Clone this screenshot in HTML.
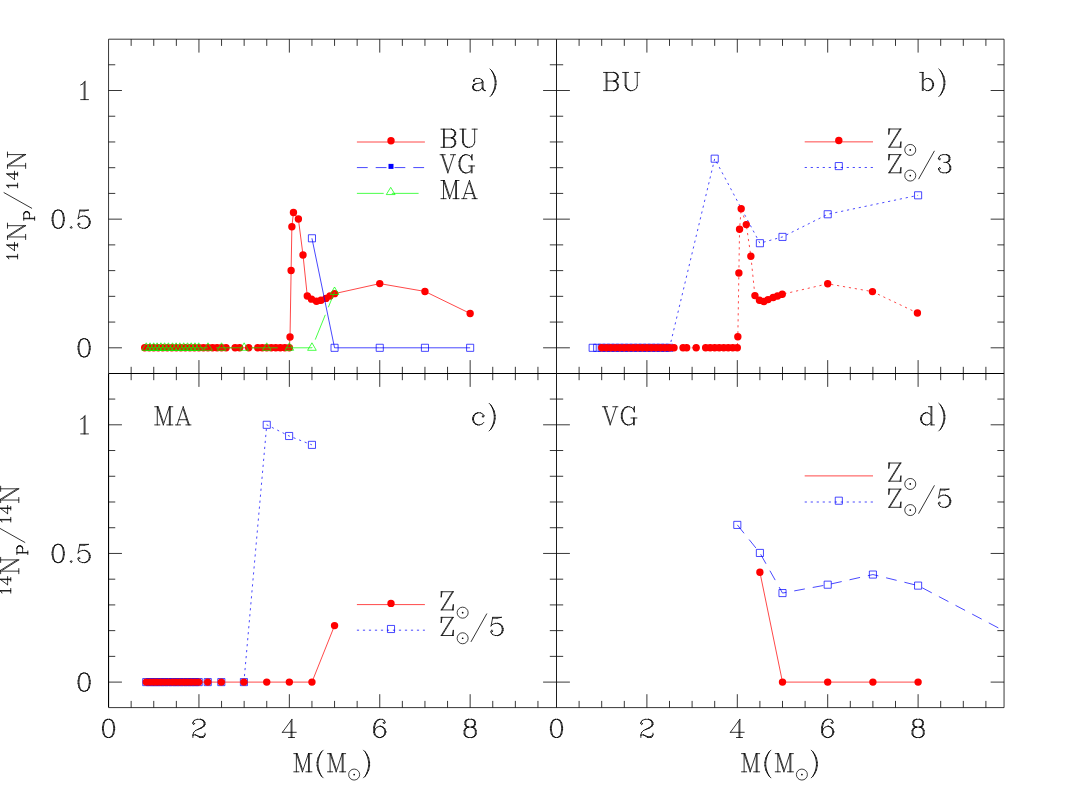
<!DOCTYPE html>
<html><head><meta charset="utf-8"><title>14N primary fraction vs mass</title>
<style>html,body{margin:0;padding:0;background:#fff;font-family:"Liberation Sans",sans-serif}svg{display:block}</style>
</head><body>
<svg width="1067" height="797" viewBox="0 0 1067 797">
<rect width="1067" height="797" fill="#fff"/>
<path d="M144.71 347.8L149.23 347.8L153.75 347.8L158.27 347.8L162.79 347.8L167.31 347.8L171.83 347.8L176.35 347.8L180.87 347.8L185.39 347.8L189.91 347.8L194.43 347.8L198.95 347.8L203.47 347.8L207.99 347.8L212.51 347.8L217.03 347.8L221.55 347.8L226.07 347.8L235.11 347.8L239.63 347.8L248.67 347.8L257.71 347.8L262.23 347.8L266.75 347.8L271.27 347.8L275.79 347.8L280.31 347.8L284.83 347.8L289.35 347.8L290.03 336.99L291.11 270.51L291.88 226.69L293.46 212.51L298.39 219L303 254.99L307.29 296.01L311.5 299.17L316.47 301.31L320.99 300.3L325.96 298.4L330.03 296.01L334.55 293.64L379.75 283.6L424.95 291.45L470.15 313.48" stroke="#ff0000" fill="none" stroke-width="0.72"/>
<path d="M141.01 347.8a3.7 3.7 0 1 0 7.4 0a3.7 3.7 0 1 0 -7.4 0zM145.53 347.8a3.7 3.7 0 1 0 7.4 0a3.7 3.7 0 1 0 -7.4 0zM150.05 347.8a3.7 3.7 0 1 0 7.4 0a3.7 3.7 0 1 0 -7.4 0zM154.57 347.8a3.7 3.7 0 1 0 7.4 0a3.7 3.7 0 1 0 -7.4 0zM159.09 347.8a3.7 3.7 0 1 0 7.4 0a3.7 3.7 0 1 0 -7.4 0zM163.61 347.8a3.7 3.7 0 1 0 7.4 0a3.7 3.7 0 1 0 -7.4 0zM168.13 347.8a3.7 3.7 0 1 0 7.4 0a3.7 3.7 0 1 0 -7.4 0zM172.65 347.8a3.7 3.7 0 1 0 7.4 0a3.7 3.7 0 1 0 -7.4 0zM177.17 347.8a3.7 3.7 0 1 0 7.4 0a3.7 3.7 0 1 0 -7.4 0zM181.69 347.8a3.7 3.7 0 1 0 7.4 0a3.7 3.7 0 1 0 -7.4 0zM186.21 347.8a3.7 3.7 0 1 0 7.4 0a3.7 3.7 0 1 0 -7.4 0zM190.73 347.8a3.7 3.7 0 1 0 7.4 0a3.7 3.7 0 1 0 -7.4 0zM195.25 347.8a3.7 3.7 0 1 0 7.4 0a3.7 3.7 0 1 0 -7.4 0zM199.77 347.8a3.7 3.7 0 1 0 7.4 0a3.7 3.7 0 1 0 -7.4 0zM204.29 347.8a3.7 3.7 0 1 0 7.4 0a3.7 3.7 0 1 0 -7.4 0zM208.81 347.8a3.7 3.7 0 1 0 7.4 0a3.7 3.7 0 1 0 -7.4 0zM213.33 347.8a3.7 3.7 0 1 0 7.4 0a3.7 3.7 0 1 0 -7.4 0zM217.85 347.8a3.7 3.7 0 1 0 7.4 0a3.7 3.7 0 1 0 -7.4 0zM222.37 347.8a3.7 3.7 0 1 0 7.4 0a3.7 3.7 0 1 0 -7.4 0zM231.41 347.8a3.7 3.7 0 1 0 7.4 0a3.7 3.7 0 1 0 -7.4 0zM235.93 347.8a3.7 3.7 0 1 0 7.4 0a3.7 3.7 0 1 0 -7.4 0zM244.97 347.8a3.7 3.7 0 1 0 7.4 0a3.7 3.7 0 1 0 -7.4 0zM254.01 347.8a3.7 3.7 0 1 0 7.4 0a3.7 3.7 0 1 0 -7.4 0zM258.53 347.8a3.7 3.7 0 1 0 7.4 0a3.7 3.7 0 1 0 -7.4 0zM263.05 347.8a3.7 3.7 0 1 0 7.4 0a3.7 3.7 0 1 0 -7.4 0zM267.57 347.8a3.7 3.7 0 1 0 7.4 0a3.7 3.7 0 1 0 -7.4 0zM272.09 347.8a3.7 3.7 0 1 0 7.4 0a3.7 3.7 0 1 0 -7.4 0zM276.61 347.8a3.7 3.7 0 1 0 7.4 0a3.7 3.7 0 1 0 -7.4 0zM281.13 347.8a3.7 3.7 0 1 0 7.4 0a3.7 3.7 0 1 0 -7.4 0zM285.65 347.8a3.7 3.7 0 1 0 7.4 0a3.7 3.7 0 1 0 -7.4 0zM286.33 336.99a3.7 3.7 0 1 0 7.4 0a3.7 3.7 0 1 0 -7.4 0zM287.41 270.51a3.7 3.7 0 1 0 7.4 0a3.7 3.7 0 1 0 -7.4 0zM288.18 226.69a3.7 3.7 0 1 0 7.4 0a3.7 3.7 0 1 0 -7.4 0zM289.76 212.51a3.7 3.7 0 1 0 7.4 0a3.7 3.7 0 1 0 -7.4 0zM294.69 219a3.7 3.7 0 1 0 7.4 0a3.7 3.7 0 1 0 -7.4 0zM299.3 254.99a3.7 3.7 0 1 0 7.4 0a3.7 3.7 0 1 0 -7.4 0zM303.59 296.01a3.7 3.7 0 1 0 7.4 0a3.7 3.7 0 1 0 -7.4 0zM307.8 299.17a3.7 3.7 0 1 0 7.4 0a3.7 3.7 0 1 0 -7.4 0zM312.77 301.31a3.7 3.7 0 1 0 7.4 0a3.7 3.7 0 1 0 -7.4 0zM317.29 300.3a3.7 3.7 0 1 0 7.4 0a3.7 3.7 0 1 0 -7.4 0zM322.26 298.4a3.7 3.7 0 1 0 7.4 0a3.7 3.7 0 1 0 -7.4 0zM326.33 296.01a3.7 3.7 0 1 0 7.4 0a3.7 3.7 0 1 0 -7.4 0zM330.85 293.64a3.7 3.7 0 1 0 7.4 0a3.7 3.7 0 1 0 -7.4 0zM376.05 283.6a3.7 3.7 0 1 0 7.4 0a3.7 3.7 0 1 0 -7.4 0zM421.25 291.45a3.7 3.7 0 1 0 7.4 0a3.7 3.7 0 1 0 -7.4 0zM466.45 313.48a3.7 3.7 0 1 0 7.4 0a3.7 3.7 0 1 0 -7.4 0z" fill="#ff0000"/>
<path d="M311.95 238.29L334.55 347.8L379.75 347.8L424.95 347.8L470.15 347.8" stroke="#0000ff" fill="none" stroke-width="0.72"/>
<path d="M308.4 234.74h7.1v7.1h-7.1zM331 344.25h7.1v7.1h-7.1zM376.2 344.25h7.1v7.1h-7.1zM421.4 344.25h7.1v7.1h-7.1zM466.6 344.25h7.1v7.1h-7.1z" fill="none" stroke="#0000ff" stroke-width="0.72"/>
<path d="M146.24 347.8L150 347.8L153.7 347.8L157.1 347.8L160.9 347.8L164.6 347.8L168.4 347.8L172.5 347.8L176.1 347.8L179.8 347.8L183.7 347.8L187.5 347.8L191.2 347.8L195 347.8L198.7 347.8L207.99 347.8L221.55 347.8L244.15 347.8L266.75 347.8L289.35 347.8L311.95 347.8L334.55 291.99" stroke="#00ff00" fill="none" stroke-width="0.72" stroke-dasharray="26.8 8.1"/>
<path d="M146.24 342.8L150.57 350.3L141.91 350.3zM150 342.8L154.33 350.3L145.67 350.3zM153.7 342.8L158.03 350.3L149.37 350.3zM157.1 342.8L161.43 350.3L152.77 350.3zM160.9 342.8L165.23 350.3L156.57 350.3zM164.6 342.8L168.93 350.3L160.27 350.3zM168.4 342.8L172.73 350.3L164.07 350.3zM172.5 342.8L176.83 350.3L168.17 350.3zM176.1 342.8L180.43 350.3L171.77 350.3zM179.8 342.8L184.13 350.3L175.47 350.3zM183.7 342.8L188.03 350.3L179.37 350.3zM187.5 342.8L191.83 350.3L183.17 350.3zM191.2 342.8L195.53 350.3L186.87 350.3zM195 342.8L199.33 350.3L190.67 350.3zM198.7 342.8L203.03 350.3L194.37 350.3zM207.99 342.8L212.32 350.3L203.66 350.3zM221.55 342.8L225.88 350.3L217.22 350.3zM244.15 342.8L248.48 350.3L239.82 350.3zM266.75 342.8L271.08 350.3L262.42 350.3zM289.35 342.8L293.68 350.3L285.02 350.3zM311.95 342.8L316.28 350.3L307.62 350.3zM334.55 286.99L338.88 294.49L330.22 294.49z" fill="none" stroke="#00ff00" stroke-width="0.72"/>
<path d="M356.9 142.01L424.9 142.01" stroke="#ff0000" fill="none" stroke-width="0.72"/>
<path d="M387.3 140.81a3.7 3.7 0 1 0 7.4 0a3.7 3.7 0 1 0 -7.4 0z" fill="#ff0000"/>
<path d="M356.9 167.59L424.9 167.59" stroke="#0000ff" fill="none" stroke-width="0.72" stroke-dasharray="10.8 8"/>
<rect x="388.5" y="163.89" width="5" height="5" fill="#0000ff"/>
<path d="M356.9 193.37L424.9 193.37" stroke="#00ff00" fill="none" stroke-width="0.72" stroke-dasharray="26.8 8.1"/>
<path d="M390.7 187.37L395.1 194.57L386.3 194.57z" fill="none" stroke="#00ff00" stroke-width="0.72"/>
<path d="M669.5 347.8L714.7 158.68L759.9 243.21L782.5 236.9L827.7 214.26L918.1 195.3" stroke="#0000ff" fill="none" stroke-width="0.72" stroke-dasharray="2.2 3.8"/>
<path d="M589.11 344.25h7.1v7.1h-7.1zM593.63 344.25h7.1v7.1h-7.1zM598.15 344.25h7.1v7.1h-7.1zM602.67 344.25h7.1v7.1h-7.1zM607.19 344.25h7.1v7.1h-7.1zM611.71 344.25h7.1v7.1h-7.1zM616.23 344.25h7.1v7.1h-7.1zM620.75 344.25h7.1v7.1h-7.1zM625.27 344.25h7.1v7.1h-7.1zM629.79 344.25h7.1v7.1h-7.1zM634.31 344.25h7.1v7.1h-7.1zM638.83 344.25h7.1v7.1h-7.1zM643.35 344.25h7.1v7.1h-7.1zM647.87 344.25h7.1v7.1h-7.1zM652.39 344.25h7.1v7.1h-7.1zM656.91 344.25h7.1v7.1h-7.1zM661.43 344.25h7.1v7.1h-7.1zM665.95 344.25h7.1v7.1h-7.1zM711.15 155.13h7.1v7.1h-7.1zM756.35 239.66h7.1v7.1h-7.1zM778.95 233.35h7.1v7.1h-7.1zM824.15 210.71h7.1v7.1h-7.1zM914.55 191.75h7.1v7.1h-7.1z" fill="none" stroke="#0000ff" stroke-width="0.72"/>
<path d="M601.7 347.8L606.22 347.8L610.74 347.8L615.26 347.8L619.78 347.8L624.3 347.8L628.82 347.8L633.34 347.8L637.86 347.8L642.38 347.8L646.9 347.8L651.42 347.8L655.94 347.8L660.46 347.8L664.98 347.8L669.5 347.8L674.02 347.8L683.06 347.8L686.68 347.8L696.17 347.8L705.66 347.8L710.18 347.8L714.7 347.8L719.22 347.8L723.74 347.8L728.26 347.8L732.78 347.8L737.3 347.8L737.84 336.74L738.88 272.93L739.56 229.31L741.19 208.7L746.29 224.6L750.86 256.2L754.93 295.59L759.45 300.3L763.88 301.49L768.04 299.61L773.19 297.5L777.53 296.01L782.27 294.28L827.7 283.81L872.45 291.61L917.42 312.99" stroke="#ff0000" fill="none" stroke-width="0.72" stroke-dasharray="2.2 3.8"/>
<path d="M598 347.8a3.7 3.7 0 1 0 7.4 0a3.7 3.7 0 1 0 -7.4 0zM602.52 347.8a3.7 3.7 0 1 0 7.4 0a3.7 3.7 0 1 0 -7.4 0zM607.04 347.8a3.7 3.7 0 1 0 7.4 0a3.7 3.7 0 1 0 -7.4 0zM611.56 347.8a3.7 3.7 0 1 0 7.4 0a3.7 3.7 0 1 0 -7.4 0zM616.08 347.8a3.7 3.7 0 1 0 7.4 0a3.7 3.7 0 1 0 -7.4 0zM620.6 347.8a3.7 3.7 0 1 0 7.4 0a3.7 3.7 0 1 0 -7.4 0zM625.12 347.8a3.7 3.7 0 1 0 7.4 0a3.7 3.7 0 1 0 -7.4 0zM629.64 347.8a3.7 3.7 0 1 0 7.4 0a3.7 3.7 0 1 0 -7.4 0zM634.16 347.8a3.7 3.7 0 1 0 7.4 0a3.7 3.7 0 1 0 -7.4 0zM638.68 347.8a3.7 3.7 0 1 0 7.4 0a3.7 3.7 0 1 0 -7.4 0zM643.2 347.8a3.7 3.7 0 1 0 7.4 0a3.7 3.7 0 1 0 -7.4 0zM647.72 347.8a3.7 3.7 0 1 0 7.4 0a3.7 3.7 0 1 0 -7.4 0zM652.24 347.8a3.7 3.7 0 1 0 7.4 0a3.7 3.7 0 1 0 -7.4 0zM656.76 347.8a3.7 3.7 0 1 0 7.4 0a3.7 3.7 0 1 0 -7.4 0zM661.28 347.8a3.7 3.7 0 1 0 7.4 0a3.7 3.7 0 1 0 -7.4 0zM665.8 347.8a3.7 3.7 0 1 0 7.4 0a3.7 3.7 0 1 0 -7.4 0zM670.32 347.8a3.7 3.7 0 1 0 7.4 0a3.7 3.7 0 1 0 -7.4 0zM679.36 347.8a3.7 3.7 0 1 0 7.4 0a3.7 3.7 0 1 0 -7.4 0zM682.98 347.8a3.7 3.7 0 1 0 7.4 0a3.7 3.7 0 1 0 -7.4 0zM692.47 347.8a3.7 3.7 0 1 0 7.4 0a3.7 3.7 0 1 0 -7.4 0zM701.96 347.8a3.7 3.7 0 1 0 7.4 0a3.7 3.7 0 1 0 -7.4 0zM706.48 347.8a3.7 3.7 0 1 0 7.4 0a3.7 3.7 0 1 0 -7.4 0zM711 347.8a3.7 3.7 0 1 0 7.4 0a3.7 3.7 0 1 0 -7.4 0zM715.52 347.8a3.7 3.7 0 1 0 7.4 0a3.7 3.7 0 1 0 -7.4 0zM720.04 347.8a3.7 3.7 0 1 0 7.4 0a3.7 3.7 0 1 0 -7.4 0zM724.56 347.8a3.7 3.7 0 1 0 7.4 0a3.7 3.7 0 1 0 -7.4 0zM729.08 347.8a3.7 3.7 0 1 0 7.4 0a3.7 3.7 0 1 0 -7.4 0zM733.6 347.8a3.7 3.7 0 1 0 7.4 0a3.7 3.7 0 1 0 -7.4 0zM734.14 336.74a3.7 3.7 0 1 0 7.4 0a3.7 3.7 0 1 0 -7.4 0zM735.18 272.93a3.7 3.7 0 1 0 7.4 0a3.7 3.7 0 1 0 -7.4 0zM735.86 229.31a3.7 3.7 0 1 0 7.4 0a3.7 3.7 0 1 0 -7.4 0zM737.49 208.7a3.7 3.7 0 1 0 7.4 0a3.7 3.7 0 1 0 -7.4 0zM742.59 224.6a3.7 3.7 0 1 0 7.4 0a3.7 3.7 0 1 0 -7.4 0zM747.16 256.2a3.7 3.7 0 1 0 7.4 0a3.7 3.7 0 1 0 -7.4 0zM751.23 295.59a3.7 3.7 0 1 0 7.4 0a3.7 3.7 0 1 0 -7.4 0zM755.75 300.3a3.7 3.7 0 1 0 7.4 0a3.7 3.7 0 1 0 -7.4 0zM760.18 301.49a3.7 3.7 0 1 0 7.4 0a3.7 3.7 0 1 0 -7.4 0zM764.34 299.61a3.7 3.7 0 1 0 7.4 0a3.7 3.7 0 1 0 -7.4 0zM769.49 297.5a3.7 3.7 0 1 0 7.4 0a3.7 3.7 0 1 0 -7.4 0zM773.83 296.01a3.7 3.7 0 1 0 7.4 0a3.7 3.7 0 1 0 -7.4 0zM778.57 294.28a3.7 3.7 0 1 0 7.4 0a3.7 3.7 0 1 0 -7.4 0zM824 283.81a3.7 3.7 0 1 0 7.4 0a3.7 3.7 0 1 0 -7.4 0zM868.75 291.61a3.7 3.7 0 1 0 7.4 0a3.7 3.7 0 1 0 -7.4 0zM913.72 312.99a3.7 3.7 0 1 0 7.4 0a3.7 3.7 0 1 0 -7.4 0z" fill="#ff0000"/>
<path d="M804.7 141.86L873 141.86" stroke="#ff0000" fill="none" stroke-width="0.72"/>
<path d="M835.1 140.46a3.7 3.7 0 1 0 7.4 0a3.7 3.7 0 1 0 -7.4 0z" fill="#ff0000"/>
<path d="M804.7 167.49L873 167.49" stroke="#0000ff" fill="none" stroke-width="0.72" stroke-dasharray="2.2 3.8"/>
<path d="M835.25 162.54h7.1v7.1h-7.1z" fill="none" stroke="#0000ff" stroke-width="0.72"/>
<path d="M243.92 682.1L266.75 424.8L289.12 435.99L311.95 444.87" stroke="#0000ff" fill="none" stroke-width="0.72" stroke-dasharray="2.2 3.8"/>
<path d="M142.69 678.55h7.1v7.1h-7.1zM146.45 678.55h7.1v7.1h-7.1zM150.15 678.55h7.1v7.1h-7.1zM153.55 678.55h7.1v7.1h-7.1zM157.35 678.55h7.1v7.1h-7.1zM161.05 678.55h7.1v7.1h-7.1zM164.85 678.55h7.1v7.1h-7.1zM168.95 678.55h7.1v7.1h-7.1zM172.55 678.55h7.1v7.1h-7.1zM176.25 678.55h7.1v7.1h-7.1zM180.15 678.55h7.1v7.1h-7.1zM183.95 678.55h7.1v7.1h-7.1zM187.65 678.55h7.1v7.1h-7.1zM191.45 678.55h7.1v7.1h-7.1zM195.15 678.55h7.1v7.1h-7.1zM204.21 678.55h7.1v7.1h-7.1zM217.77 678.55h7.1v7.1h-7.1zM240.37 678.55h7.1v7.1h-7.1zM263.2 421.25h7.1v7.1h-7.1zM285.57 432.44h7.1v7.1h-7.1zM308.4 441.32h7.1v7.1h-7.1z" fill="none" stroke="#0000ff" stroke-width="0.72"/>
<path d="M146.24 682.1L150 682.1L153.7 682.1L157.1 682.1L160.9 682.1L164.6 682.1L168.4 682.1L172.5 682.1L176.1 682.1L179.8 682.1L183.7 682.1L187.5 682.1L191.2 682.1L195 682.1L198.7 682.1L207.76 682.1L221.32 682.1L243.92 682.1L266.75 682.1L289.35 682.1L311.95 682.1L334.55 625.6" stroke="#ff0000" fill="none" stroke-width="0.72"/>
<path d="M142.54 682.1a3.7 3.7 0 1 0 7.4 0a3.7 3.7 0 1 0 -7.4 0zM146.3 682.1a3.7 3.7 0 1 0 7.4 0a3.7 3.7 0 1 0 -7.4 0zM150 682.1a3.7 3.7 0 1 0 7.4 0a3.7 3.7 0 1 0 -7.4 0zM153.4 682.1a3.7 3.7 0 1 0 7.4 0a3.7 3.7 0 1 0 -7.4 0zM157.2 682.1a3.7 3.7 0 1 0 7.4 0a3.7 3.7 0 1 0 -7.4 0zM160.9 682.1a3.7 3.7 0 1 0 7.4 0a3.7 3.7 0 1 0 -7.4 0zM164.7 682.1a3.7 3.7 0 1 0 7.4 0a3.7 3.7 0 1 0 -7.4 0zM168.8 682.1a3.7 3.7 0 1 0 7.4 0a3.7 3.7 0 1 0 -7.4 0zM172.4 682.1a3.7 3.7 0 1 0 7.4 0a3.7 3.7 0 1 0 -7.4 0zM176.1 682.1a3.7 3.7 0 1 0 7.4 0a3.7 3.7 0 1 0 -7.4 0zM180 682.1a3.7 3.7 0 1 0 7.4 0a3.7 3.7 0 1 0 -7.4 0zM183.8 682.1a3.7 3.7 0 1 0 7.4 0a3.7 3.7 0 1 0 -7.4 0zM187.5 682.1a3.7 3.7 0 1 0 7.4 0a3.7 3.7 0 1 0 -7.4 0zM191.3 682.1a3.7 3.7 0 1 0 7.4 0a3.7 3.7 0 1 0 -7.4 0zM195 682.1a3.7 3.7 0 1 0 7.4 0a3.7 3.7 0 1 0 -7.4 0zM204.06 682.1a3.7 3.7 0 1 0 7.4 0a3.7 3.7 0 1 0 -7.4 0zM217.62 682.1a3.7 3.7 0 1 0 7.4 0a3.7 3.7 0 1 0 -7.4 0zM240.22 682.1a3.7 3.7 0 1 0 7.4 0a3.7 3.7 0 1 0 -7.4 0zM263.05 682.1a3.7 3.7 0 1 0 7.4 0a3.7 3.7 0 1 0 -7.4 0zM285.65 682.1a3.7 3.7 0 1 0 7.4 0a3.7 3.7 0 1 0 -7.4 0zM308.25 682.1a3.7 3.7 0 1 0 7.4 0a3.7 3.7 0 1 0 -7.4 0zM330.85 625.6a3.7 3.7 0 1 0 7.4 0a3.7 3.7 0 1 0 -7.4 0z" fill="#ff0000"/>
<path d="M356.9 604.6L424.9 604.6" stroke="#ff0000" fill="none" stroke-width="0.72"/>
<path d="M387.3 603.4a3.7 3.7 0 1 0 7.4 0a3.7 3.7 0 1 0 -7.4 0z" fill="#ff0000"/>
<path d="M356.9 630.2L424.9 630.2" stroke="#0000ff" fill="none" stroke-width="0.72" stroke-dasharray="2.2 3.8"/>
<path d="M387.45 625.45h7.1v7.1h-7.1z" fill="none" stroke="#0000ff" stroke-width="0.72"/>
<clipPath id="cd"><rect x="556.5" y="373.5" width="447.55" height="334.1"/></clipPath>
<path d="M737.3 524.89L759.9 552.94L782.5 593.07L827.7 584.69L872.9 574.55L918.1 585.61L1101.16 682.1" stroke="#0000ff" fill="none" stroke-width="0.72" stroke-dasharray="10.8 8" clip-path="url(#cd)"/>
<path d="M733.75 521.34h7.1v7.1h-7.1zM756.35 549.39h7.1v7.1h-7.1zM778.95 589.52h7.1v7.1h-7.1zM824.15 581.14h7.1v7.1h-7.1zM869.35 571h7.1v7.1h-7.1zM914.55 582.06h7.1v7.1h-7.1z" fill="none" stroke="#0000ff" stroke-width="0.72"/>
<path d="M759.9 572.23L782.5 682.1L827.7 682.1L872.9 682.1L918.1 682.1" stroke="#ff0000" fill="none" stroke-width="0.72"/>
<path d="M756.2 572.23a3.7 3.7 0 1 0 7.4 0a3.7 3.7 0 1 0 -7.4 0zM778.8 682.1a3.7 3.7 0 1 0 7.4 0a3.7 3.7 0 1 0 -7.4 0zM824 682.1a3.7 3.7 0 1 0 7.4 0a3.7 3.7 0 1 0 -7.4 0zM869.2 682.1a3.7 3.7 0 1 0 7.4 0a3.7 3.7 0 1 0 -7.4 0zM914.4 682.1a3.7 3.7 0 1 0 7.4 0a3.7 3.7 0 1 0 -7.4 0z" fill="#ff0000"/>
<path d="M804.7 475.9L873 475.9" stroke="#ff0000" fill="none" stroke-width="0.72"/>
<path d="M804.7 502L873 502" stroke="#0000ff" fill="none" stroke-width="0.72" stroke-dasharray="2.2 3.8"/>
<path d="M835.25 497.15h7.1v7.1h-7.1z" fill="none" stroke="#0000ff" stroke-width="0.72"/>
<path d="M108.55 39.2L1004.05 39.2M108.55 707.6L1004.05 707.6M108.55 39.2L108.55 373.5M1004.05 39.2L1004.05 707.6M131.15 39.2L131.15 45.9M131.15 366.8L131.15 380.2M131.15 700.9L131.15 707.6M153.75 39.2L153.75 45.9M153.75 366.8L153.75 380.2M153.75 700.9L153.75 707.6M176.35 39.2L176.35 45.9M176.35 366.8L176.35 380.2M176.35 700.9L176.35 707.6M198.95 39.2L198.95 52.6M198.95 360.1L198.95 386.9M198.95 694.2L198.95 707.6M221.55 39.2L221.55 45.9M221.55 366.8L221.55 380.2M221.55 700.9L221.55 707.6M244.15 39.2L244.15 45.9M244.15 366.8L244.15 380.2M244.15 700.9L244.15 707.6M266.75 39.2L266.75 45.9M266.75 366.8L266.75 380.2M266.75 700.9L266.75 707.6M289.35 39.2L289.35 52.6M289.35 360.1L289.35 386.9M289.35 694.2L289.35 707.6M311.95 39.2L311.95 45.9M311.95 366.8L311.95 380.2M311.95 700.9L311.95 707.6M334.55 39.2L334.55 45.9M334.55 366.8L334.55 380.2M334.55 700.9L334.55 707.6M357.15 39.2L357.15 45.9M357.15 366.8L357.15 380.2M357.15 700.9L357.15 707.6M379.75 39.2L379.75 52.6M379.75 360.1L379.75 386.9M379.75 694.2L379.75 707.6M402.35 39.2L402.35 45.9M402.35 366.8L402.35 380.2M402.35 700.9L402.35 707.6M424.95 39.2L424.95 45.9M424.95 366.8L424.95 380.2M424.95 700.9L424.95 707.6M447.55 39.2L447.55 45.9M447.55 366.8L447.55 380.2M447.55 700.9L447.55 707.6M470.15 39.2L470.15 52.6M470.15 360.1L470.15 386.9M470.15 694.2L470.15 707.6M492.75 39.2L492.75 45.9M492.75 366.8L492.75 380.2M492.75 700.9L492.75 707.6M515.35 39.2L515.35 45.9M515.35 366.8L515.35 380.2M515.35 700.9L515.35 707.6M537.95 39.2L537.95 45.9M537.95 366.8L537.95 380.2M537.95 700.9L537.95 707.6M579.1 39.2L579.1 45.9M579.1 366.8L579.1 380.2M579.1 700.9L579.1 707.6M601.7 39.2L601.7 45.9M601.7 366.8L601.7 380.2M601.7 700.9L601.7 707.6M624.3 39.2L624.3 45.9M624.3 366.8L624.3 380.2M624.3 700.9L624.3 707.6M646.9 39.2L646.9 52.6M646.9 360.1L646.9 386.9M646.9 694.2L646.9 707.6M669.5 39.2L669.5 45.9M669.5 366.8L669.5 380.2M669.5 700.9L669.5 707.6M692.1 39.2L692.1 45.9M692.1 366.8L692.1 380.2M692.1 700.9L692.1 707.6M714.7 39.2L714.7 45.9M714.7 366.8L714.7 380.2M714.7 700.9L714.7 707.6M737.3 39.2L737.3 52.6M737.3 360.1L737.3 386.9M737.3 694.2L737.3 707.6M759.9 39.2L759.9 45.9M759.9 366.8L759.9 380.2M759.9 700.9L759.9 707.6M782.5 39.2L782.5 45.9M782.5 366.8L782.5 380.2M782.5 700.9L782.5 707.6M805.1 39.2L805.1 45.9M805.1 366.8L805.1 380.2M805.1 700.9L805.1 707.6M827.7 39.2L827.7 52.6M827.7 360.1L827.7 386.9M827.7 694.2L827.7 707.6M850.3 39.2L850.3 45.9M850.3 366.8L850.3 380.2M850.3 700.9L850.3 707.6M872.9 39.2L872.9 45.9M872.9 366.8L872.9 380.2M872.9 700.9L872.9 707.6M895.5 39.2L895.5 45.9M895.5 366.8L895.5 380.2M895.5 700.9L895.5 707.6M918.1 39.2L918.1 52.6M918.1 360.1L918.1 386.9M918.1 694.2L918.1 707.6M940.7 39.2L940.7 45.9M940.7 366.8L940.7 380.2M940.7 700.9L940.7 707.6M963.3 39.2L963.3 45.9M963.3 366.8L963.3 380.2M963.3 700.9L963.3 707.6M985.9 39.2L985.9 45.9M985.9 366.8L985.9 380.2M985.9 700.9L985.9 707.6M108.55 347.8L121.95 347.8M543.1 347.8L569.9 347.8M990.65 347.8L1004.05 347.8M108.55 322.07L115.25 322.07M549.8 322.07L563.2 322.07M997.35 322.07L1004.05 322.07M108.55 296.34L115.25 296.34M549.8 296.34L563.2 296.34M997.35 296.34L1004.05 296.34M108.55 270.61L115.25 270.61M549.8 270.61L563.2 270.61M997.35 270.61L1004.05 270.61M108.55 244.88L115.25 244.88M549.8 244.88L563.2 244.88M997.35 244.88L1004.05 244.88M108.55 219.15L121.95 219.15M543.1 219.15L569.9 219.15M990.65 219.15L1004.05 219.15M108.55 193.42L115.25 193.42M549.8 193.42L563.2 193.42M997.35 193.42L1004.05 193.42M108.55 167.69L115.25 167.69M549.8 167.69L563.2 167.69M997.35 167.69L1004.05 167.69M108.55 141.96L115.25 141.96M549.8 141.96L563.2 141.96M997.35 141.96L1004.05 141.96M108.55 116.23L115.25 116.23M549.8 116.23L563.2 116.23M997.35 116.23L1004.05 116.23M108.55 90.5L121.95 90.5M543.1 90.5L569.9 90.5M990.65 90.5L1004.05 90.5M108.55 64.77L115.25 64.77M549.8 64.77L563.2 64.77M997.35 64.77L1004.05 64.77M108.55 682.1L121.95 682.1M543.1 682.1L569.9 682.1M990.65 682.1L1004.05 682.1M108.55 656.37L115.25 656.37M549.8 656.37L563.2 656.37M997.35 656.37L1004.05 656.37M108.55 630.64L115.25 630.64M549.8 630.64L563.2 630.64M997.35 630.64L1004.05 630.64M108.55 604.91L115.25 604.91M549.8 604.91L563.2 604.91M997.35 604.91L1004.05 604.91M108.55 579.18L115.25 579.18M549.8 579.18L563.2 579.18M997.35 579.18L1004.05 579.18M108.55 553.45L121.95 553.45M543.1 553.45L569.9 553.45M990.65 553.45L1004.05 553.45M108.55 527.72L115.25 527.72M549.8 527.72L563.2 527.72M997.35 527.72L1004.05 527.72M108.55 501.99L115.25 501.99M549.8 501.99L563.2 501.99M997.35 501.99L1004.05 501.99M108.55 476.26L115.25 476.26M549.8 476.26L563.2 476.26M997.35 476.26L1004.05 476.26M108.55 450.53L115.25 450.53M549.8 450.53L563.2 450.53M997.35 450.53L1004.05 450.53M108.55 424.8L121.95 424.8M543.1 424.8L569.9 424.8M990.65 424.8L1004.05 424.8M108.55 399.07L115.25 399.07M549.8 399.07L563.2 399.07M997.35 399.07L1004.05 399.07" stroke="#000" stroke-width="1" fill="none" stroke-opacity="0.78"/>
<path d="M108.55 373.5L1004.05 373.5M108.55 373.5L108.55 707.6" stroke="#000" stroke-width="1.1" fill="none"/>
<path d="M556.5 39.2L556.5 707.6" stroke="#111" stroke-width="0.95" fill="none"/>
<path d="M103.36 722.79L102.49 727.12M104.22 722.79L103.36 727.12M112.87 722.79L113.74 727.12M113.74 722.79L114.6 727.12M102.49 729.72L103.36 734.04M103.36 729.72L104.22 734.04M113.74 729.72L112.87 734.04M114.6 729.72L113.74 734.04M107.68 719.34L105.09 720.2M109.41 719.34L112.01 720.2M105.09 720.2L103.36 722.79M112.01 720.2L113.74 722.79M102.49 727.12L102.49 729.72M103.36 727.12L103.36 729.72M113.74 727.12L113.74 729.72M114.6 727.12L114.6 729.72M103.36 734.04L105.09 736.63M113.74 734.04L112.01 736.63M105.09 736.63L107.68 737.5M112.01 736.63L109.41 737.5M107.68 719.34L109.41 719.34M107.68 719.34L105.95 720.2M109.41 719.34L111.14 720.2M105.09 721.07L104.22 722.79M112.01 721.07L112.87 722.79M104.22 734.04L105.09 735.77M112.87 734.04L112.01 735.77M105.95 736.63L107.68 737.5M111.14 736.63L109.41 737.5M107.68 737.5L109.41 737.5M105.95 720.2L105.09 721.07M111.14 720.2L112.01 721.07M105.09 735.77L105.95 736.63M112.01 735.77L111.14 736.63M200.68 727.99L195.49 730.58M201.54 727.99L197.22 729.72M195.49 734.9L199.81 736.63M195.49 734.9L199.81 737.5M197.22 719.34L200.68 719.34M199.81 737.5L203.27 737.5M197.22 719.34L194.62 720.2M200.68 719.34L203.27 720.2M203.27 726.25L200.68 727.99M204.14 726.25L201.54 727.99M193.76 732.31L192.89 734.9M192.89 734.9L192.89 737.5M199.81 736.63L202.41 736.63M200.68 719.34L202.41 720.2M193.76 721.07L192.89 722.79M203.27 721.07L204.14 722.79M204.14 721.07L205 722.79M204.14 722.79L204.14 724.52M205 722.79L205 724.52M204.14 724.52L203.27 726.25M205 724.52L204.14 726.25M195.49 730.58L193.76 732.31M205 733.17L205 734.9M193.76 734.9L195.49 734.9M205 734.9L204.14 736.63M204.14 735.77L202.41 736.63M194.62 720.2L193.76 721.07M202.41 720.2L203.27 721.07M203.27 720.2L204.14 721.07M192.89 722.79L192.89 723.66M193.76 722.79L194.62 723.66M192.89 723.66L193.76 724.52M194.62 723.66L193.76 724.52M193.76 734.9L192.89 735.77M205 734.9L204.14 735.77M204.14 736.63L203.27 737.5M291.95 719.34L291.95 737.5M291.08 721.07L291.08 737.5M282.43 732.31L296.27 732.31M291.95 719.34L282.43 732.31M288.49 737.5L294.54 737.5M373.7 727.12L373.7 732.31M374.56 727.12L374.56 732.31M374.56 723.66L373.7 727.12M375.43 723.66L374.56 727.12M379.75 719.34L382.35 719.34M379.75 719.34L377.16 720.2M379.75 726.25L377.16 727.12M380.62 726.25L383.21 727.12M375.43 728.85L374.56 731.45M384.08 728.85L384.94 731.45M384.94 728.85L385.81 731.45M373.7 732.31L374.56 734.9M374.56 732.31L375.43 734.9M384.94 732.31L384.08 734.9M385.81 732.31L384.94 734.9M376.29 736.63L378.89 737.5M383.21 736.63L380.62 737.5M379.75 719.34L378.02 720.2M382.35 719.34L384.08 720.2M377.16 720.2L375.43 721.93M378.02 720.2L376.29 721.93M384.08 720.2L384.94 721.93M375.43 721.93L374.56 723.66M376.29 721.93L375.43 723.66M380.62 726.25L382.35 727.12M377.16 727.12L375.43 728.85M382.35 727.12L384.08 728.85M383.21 727.12L384.94 728.85M374.56 734.9L376.29 736.63M375.43 734.9L377.16 736.63M384.08 734.9L382.35 736.63M384.94 734.9L383.21 736.63M377.16 736.63L378.89 737.5M382.35 736.63L380.62 737.5M378.89 737.5L380.62 737.5M384.08 721.93L383.21 722.79M384.94 721.93L384.94 722.79M383.21 722.79L384.08 723.66M384.94 722.79L384.08 723.66M379.75 726.25L380.62 726.25M384.94 731.45L384.94 732.31M385.81 731.45L385.81 732.31M468.42 719.34L471.88 719.34M468.42 727.12L471.88 727.12M464.1 730.58L464.1 734.04M464.96 730.58L464.96 734.04M475.34 730.58L475.34 734.04M476.21 730.58L476.21 734.04M468.42 737.5L471.88 737.5M468.42 719.34L465.83 720.2M471.88 719.34L474.48 720.2M464.96 721.93L464.96 724.52M465.83 721.93L465.83 724.52M474.48 721.93L474.48 724.52M475.34 721.93L475.34 724.52M465.83 726.25L468.42 727.12M474.48 726.25L471.88 727.12M468.42 727.12L465.83 727.99M471.88 727.12L474.48 727.99M465.83 736.63L468.42 737.5M474.48 736.63L471.88 737.5M468.42 719.34L466.69 720.2M471.88 719.34L473.61 720.2M465.83 720.2L464.96 721.93M466.69 720.2L465.83 721.93M473.61 720.2L474.48 721.93M474.48 720.2L475.34 721.93M464.96 724.52L465.83 726.25M465.83 724.52L466.69 726.25M474.48 724.52L473.61 726.25M475.34 724.52L474.48 726.25M466.69 726.25L468.42 727.12M473.61 726.25L471.88 727.12M468.42 727.12L466.69 727.99M471.88 727.12L473.61 727.99M464.96 728.85L464.1 730.58M465.83 728.85L464.96 730.58M474.48 728.85L475.34 730.58M475.34 728.85L476.21 730.58M464.1 734.04L464.96 735.77M464.96 734.04L465.83 735.77M475.34 734.04L474.48 735.77M476.21 734.04L475.34 735.77M466.69 736.63L468.42 737.5M473.61 736.63L471.88 737.5M465.83 727.99L464.96 728.85M466.69 727.99L465.83 728.85M473.61 727.99L474.48 728.85M474.48 727.99L475.34 728.85M464.96 735.77L465.83 736.63M465.83 735.77L466.69 736.63M474.48 735.77L473.61 736.63M475.34 735.77L474.48 736.63M551.31 722.79L550.45 727.12M552.18 722.79L551.31 727.12M560.83 722.79L561.69 727.12M561.69 722.79L562.56 727.12M550.45 729.72L551.31 734.04M551.31 729.72L552.18 734.04M561.69 729.72L560.83 734.04M562.56 729.72L561.69 734.04M555.63 719.34L553.04 720.2M557.37 719.34L559.96 720.2M553.04 720.2L551.31 722.79M559.96 720.2L561.69 722.79M550.45 727.12L550.45 729.72M551.31 727.12L551.31 729.72M561.69 727.12L561.69 729.72M562.56 727.12L562.56 729.72M551.31 734.04L553.04 736.63M561.69 734.04L559.96 736.63M553.04 736.63L555.63 737.5M559.96 736.63L557.37 737.5M555.63 719.34L557.37 719.34M555.63 719.34L553.9 720.2M557.37 719.34L559.1 720.2M553.04 721.07L552.18 722.79M559.96 721.07L560.83 722.79M552.18 734.04L553.04 735.77M560.83 734.04L559.96 735.77M553.9 736.63L555.63 737.5M559.1 736.63L557.37 737.5M555.63 737.5L557.37 737.5M553.9 720.2L553.04 721.07M559.1 720.2L559.96 721.07M553.04 735.77L553.9 736.63M559.96 735.77L559.1 736.63M648.63 727.99L643.44 730.58M649.5 727.99L645.17 729.72M643.44 734.9L647.76 736.63M643.44 734.9L647.76 737.5M645.17 719.34L648.63 719.34M647.76 737.5L651.23 737.5M645.17 719.34L642.58 720.2M648.63 719.34L651.23 720.2M651.23 726.25L648.63 727.99M652.09 726.25L649.5 727.99M641.71 732.31L640.85 734.9M640.85 734.9L640.85 737.5M647.76 736.63L650.36 736.63M648.63 719.34L650.36 720.2M641.71 721.07L640.85 722.79M651.23 721.07L652.09 722.79M652.09 721.07L652.96 722.79M652.09 722.79L652.09 724.52M652.96 722.79L652.96 724.52M652.09 724.52L651.23 726.25M652.96 724.52L652.09 726.25M643.44 730.58L641.71 732.31M652.96 733.17L652.96 734.9M641.71 734.9L643.44 734.9M652.96 734.9L652.09 736.63M652.09 735.77L650.36 736.63M642.58 720.2L641.71 721.07M650.36 720.2L651.23 721.07M651.23 720.2L652.09 721.07M640.85 722.79L640.85 723.66M641.71 722.79L642.58 723.66M640.85 723.66L641.71 724.52M642.58 723.66L641.71 724.52M641.71 734.9L640.85 735.77M652.96 734.9L652.09 735.77M652.09 736.63L651.23 737.5M739.89 719.34L739.89 737.5M739.03 721.07L739.03 737.5M730.38 732.31L744.22 732.31M739.89 719.34L730.38 732.31M736.43 737.5L742.49 737.5M821.65 727.12L821.65 732.31M822.51 727.12L822.51 732.31M822.51 723.66L821.65 727.12M823.38 723.66L822.51 727.12M827.7 719.34L830.3 719.34M827.7 719.34L825.11 720.2M827.7 726.25L825.11 727.12M828.57 726.25L831.16 727.12M823.38 728.85L822.51 731.45M832.03 728.85L832.89 731.45M832.89 728.85L833.76 731.45M821.65 732.31L822.51 734.9M822.51 732.31L823.38 734.9M832.89 732.31L832.03 734.9M833.76 732.31L832.89 734.9M824.24 736.63L826.84 737.5M831.16 736.63L828.57 737.5M827.7 719.34L825.97 720.2M830.3 719.34L832.03 720.2M825.11 720.2L823.38 721.93M825.97 720.2L824.24 721.93M832.03 720.2L832.89 721.93M823.38 721.93L822.51 723.66M824.24 721.93L823.38 723.66M828.57 726.25L830.3 727.12M825.11 727.12L823.38 728.85M830.3 727.12L832.03 728.85M831.16 727.12L832.89 728.85M822.51 734.9L824.24 736.63M823.38 734.9L825.11 736.63M832.03 734.9L830.3 736.63M832.89 734.9L831.16 736.63M825.11 736.63L826.84 737.5M830.3 736.63L828.57 737.5M826.84 737.5L828.57 737.5M832.03 721.93L831.16 722.79M832.89 721.93L832.89 722.79M831.16 722.79L832.03 723.66M832.89 722.79L832.03 723.66M827.7 726.25L828.57 726.25M832.89 731.45L832.89 732.31M833.76 731.45L833.76 732.31M916.37 719.34L919.83 719.34M916.37 727.12L919.83 727.12M912.05 730.58L912.05 734.04M912.91 730.58L912.91 734.04M923.29 730.58L923.29 734.04M924.16 730.58L924.16 734.04M916.37 737.5L919.83 737.5M916.37 719.34L913.78 720.2M919.83 719.34L922.43 720.2M912.91 721.93L912.91 724.52M913.78 721.93L913.78 724.52M922.43 721.93L922.43 724.52M923.29 721.93L923.29 724.52M913.78 726.25L916.37 727.12M922.43 726.25L919.83 727.12M916.37 727.12L913.78 727.99M919.83 727.12L922.43 727.99M913.78 736.63L916.37 737.5M922.43 736.63L919.83 737.5M916.37 719.34L914.64 720.2M919.83 719.34L921.56 720.2M913.78 720.2L912.91 721.93M914.64 720.2L913.78 721.93M921.56 720.2L922.43 721.93M922.43 720.2L923.29 721.93M912.91 724.52L913.78 726.25M913.78 724.52L914.64 726.25M922.43 724.52L921.56 726.25M923.29 724.52L922.43 726.25M914.64 726.25L916.37 727.12M921.56 726.25L919.83 727.12M916.37 727.12L914.64 727.99M919.83 727.12L921.56 727.99M912.91 728.85L912.05 730.58M913.78 728.85L912.91 730.58M922.43 728.85L923.29 730.58M923.29 728.85L924.16 730.58M912.05 734.04L912.91 735.77M912.91 734.04L913.78 735.77M923.29 734.04L922.43 735.77M924.16 734.04L923.29 735.77M914.64 736.63L916.37 737.5M921.56 736.63L919.83 737.5M913.78 727.99L912.91 728.85M914.64 727.99L913.78 728.85M921.56 727.99L922.43 728.85M922.43 727.99L923.29 728.85M912.91 735.77L913.78 736.63M913.78 735.77L914.64 736.63M922.43 735.77L921.56 736.63M923.29 735.77L922.43 736.63M78.96 342.2L78.09 346.52M79.83 342.2L78.96 346.52M88.47 342.2L89.34 346.52M89.34 342.2L90.2 346.52M78.09 349.12L78.96 353.44M78.96 349.12L79.83 353.44M89.34 349.12L88.47 353.44M90.2 349.12L89.34 353.44M83.28 338.74L80.69 339.6M85.02 338.74L87.61 339.6M80.69 339.6L78.96 342.2M87.61 339.6L89.34 342.2M78.09 346.52L78.09 349.12M78.96 346.52L78.96 349.12M89.34 346.52L89.34 349.12M90.2 346.52L90.2 349.12M78.96 353.44L80.69 356.04M89.34 353.44L87.61 356.04M80.69 356.04L83.28 356.9M87.61 356.04L85.02 356.9M83.28 338.74L85.02 338.74M83.28 338.74L81.56 339.6M85.02 338.74L86.75 339.6M80.69 340.47L79.83 342.2M87.61 340.47L88.47 342.2M79.83 353.44L80.69 355.17M88.47 353.44L87.61 355.17M81.56 356.04L83.28 356.9M86.75 356.04L85.02 356.9M83.28 356.9L85.02 356.9M81.56 339.6L80.69 340.47M86.75 339.6L87.61 340.47M80.69 355.17L81.56 356.04M87.61 355.17L86.75 356.04M53.01 213.54L52.14 217.87M53.88 213.54L53.01 217.87M62.52 213.54L63.39 217.87M63.39 213.54L64.25 217.87M52.14 220.47L53.01 224.79M53.01 220.47L53.88 224.79M63.39 220.47L62.52 224.79M64.25 220.47L63.39 224.79M57.33 210.09L54.74 210.95M59.06 210.09L61.66 210.95M54.74 210.95L53.01 213.54M61.66 210.95L63.39 213.54M52.14 217.87L52.14 220.47M53.01 217.87L53.01 220.47M63.39 217.87L63.39 220.47M64.25 217.87L64.25 220.47M53.01 224.79L54.74 227.38M63.39 224.79L61.66 227.38M54.74 227.38L57.33 228.25M61.66 227.38L59.06 228.25M57.33 210.09L59.06 210.09M57.33 210.09L55.6 210.95M59.06 210.09L60.79 210.95M54.74 211.81L53.88 213.54M61.66 211.81L62.52 213.54M53.88 224.79L54.74 226.52M62.52 224.79L61.66 226.52M55.6 227.38L57.33 228.25M60.79 227.38L59.06 228.25M57.33 228.25L59.06 228.25M55.6 210.95L54.74 211.81M60.79 210.95L61.66 211.81M54.74 226.52L55.6 227.38M61.66 226.52L60.79 227.38M71.17 226.52L70.31 227.38M71.17 226.52L72.04 227.38M70.31 227.38L71.17 228.25M72.04 227.38L71.17 228.25M79.83 210.09L88.47 210.09M79.83 210.09L78.09 218.74M88.47 210.09L84.15 210.95M79.83 210.95L84.15 210.95M82.42 216.14L85.02 216.14M82.42 216.14L79.83 217M85.02 216.14L87.61 217M88.47 218.74L89.34 221.33M89.34 218.74L90.2 221.33M89.34 223.06L88.47 225.66M90.2 223.06L89.34 225.66M79.83 227.38L82.42 228.25M87.61 227.38L85.02 228.25M82.42 228.25L85.02 228.25M85.02 216.14L86.75 217M79.83 217L78.09 218.74M86.75 217L88.47 218.74M87.61 217L89.34 218.74M89.34 221.33L89.34 223.06M90.2 221.33L90.2 223.06M78.09 224.79L78.96 226.52M88.47 225.66L86.75 227.38M89.34 225.66L87.61 227.38M86.75 227.38L85.02 228.25M78.96 223.06L78.09 223.93M78.96 223.06L79.83 223.93M78.09 223.93L78.09 224.79M79.83 223.93L78.96 224.79M78.96 226.52L79.83 227.38M85.02 81.44L85.02 99.6M84.15 82.3L84.15 99.6M80.69 99.6L88.47 99.6M85.02 81.44L82.42 84.03M82.42 84.03L80.69 84.89M78.96 676.5L78.09 680.82M79.83 676.5L78.96 680.82M88.47 676.5L89.34 680.82M89.34 676.5L90.2 680.82M78.09 683.42L78.96 687.74M78.96 683.42L79.83 687.74M89.34 683.42L88.47 687.74M90.2 683.42L89.34 687.74M83.28 673.04L80.69 673.9M85.02 673.04L87.61 673.9M80.69 673.9L78.96 676.5M87.61 673.9L89.34 676.5M78.09 680.82L78.09 683.42M78.96 680.82L78.96 683.42M89.34 680.82L89.34 683.42M90.2 680.82L90.2 683.42M78.96 687.74L80.69 690.34M89.34 687.74L87.61 690.34M80.69 690.34L83.28 691.2M87.61 690.34L85.02 691.2M83.28 673.04L85.02 673.04M83.28 673.04L81.56 673.9M85.02 673.04L86.75 673.9M80.69 674.77L79.83 676.5M87.61 674.77L88.47 676.5M79.83 687.74L80.69 689.47M88.47 687.74L87.61 689.47M81.56 690.34L83.28 691.2M86.75 690.34L85.02 691.2M83.28 691.2L85.02 691.2M81.56 673.9L80.69 674.77M86.75 673.9L87.61 674.77M80.69 689.47L81.56 690.34M87.61 689.47L86.75 690.34M53.01 547.85L52.14 552.17M53.88 547.85L53.01 552.17M62.52 547.85L63.39 552.17M63.39 547.85L64.25 552.17M52.14 554.77L53.01 559.09M53.01 554.77L53.88 559.09M63.39 554.77L62.52 559.09M64.25 554.77L63.39 559.09M57.33 544.39L54.74 545.25M59.06 544.39L61.66 545.25M54.74 545.25L53.01 547.85M61.66 545.25L63.39 547.85M52.14 552.17L52.14 554.77M53.01 552.17L53.01 554.77M63.39 552.17L63.39 554.77M64.25 552.17L64.25 554.77M53.01 559.09L54.74 561.69M63.39 559.09L61.66 561.69M54.74 561.69L57.33 562.55M61.66 561.69L59.06 562.55M57.33 544.39L59.06 544.39M57.33 544.39L55.6 545.25M59.06 544.39L60.79 545.25M54.74 546.12L53.88 547.85M61.66 546.12L62.52 547.85M53.88 559.09L54.74 560.82M62.52 559.09L61.66 560.82M55.6 561.69L57.33 562.55M60.79 561.69L59.06 562.55M57.33 562.55L59.06 562.55M55.6 545.25L54.74 546.12M60.79 545.25L61.66 546.12M54.74 560.82L55.6 561.69M61.66 560.82L60.79 561.69M71.17 560.82L70.31 561.69M71.17 560.82L72.04 561.69M70.31 561.69L71.17 562.55M72.04 561.69L71.17 562.55M79.83 544.39L88.47 544.39M79.83 544.39L78.09 553.04M88.47 544.39L84.15 545.25M79.83 545.25L84.15 545.25M82.42 550.44L85.02 550.44M82.42 550.44L79.83 551.31M85.02 550.44L87.61 551.31M88.47 553.04L89.34 555.63M89.34 553.04L90.2 555.63M89.34 557.36L88.47 559.96M90.2 557.36L89.34 559.96M79.83 561.69L82.42 562.55M87.61 561.69L85.02 562.55M82.42 562.55L85.02 562.55M85.02 550.44L86.75 551.31M79.83 551.31L78.09 553.04M86.75 551.31L88.47 553.04M87.61 551.31L89.34 553.04M89.34 555.63L89.34 557.36M90.2 555.63L90.2 557.36M78.09 559.09L78.96 560.82M88.47 559.96L86.75 561.69M89.34 559.96L87.61 561.69M86.75 561.69L85.02 562.55M78.96 557.36L78.09 558.23M78.96 557.36L79.83 558.23M78.09 558.23L78.09 559.09M79.83 558.23L78.96 559.09M78.96 560.82L79.83 561.69M85.02 415.74L85.02 433.9M84.15 416.6L84.15 433.9M80.69 433.9L88.47 433.9M85.02 415.74L82.42 418.33M82.42 418.33L80.69 419.2M296.37 753.63L296.37 771.8M296.37 753.63L302.42 771.8M308.48 753.63L302.42 771.8M308.48 753.63L308.48 771.8M309.34 753.63L309.34 771.8M297.23 753.63L302.42 769.2M305.88 771.8L311.94 771.8M293.77 771.8L298.96 771.8M293.77 753.63L297.23 753.63M308.48 753.63L311.94 753.63M317.99 757.96L317.13 762.28M318.86 757.96L317.99 762.28M317.13 765.75L317.99 770.07M317.99 765.75L318.86 770.07M321.45 751.9L319.72 755.37M319.72 754.5L317.99 757.96M317.13 762.28L317.13 765.75M317.99 762.28L317.99 765.75M317.99 770.07L319.72 773.53M319.72 772.66L321.45 776.12M321.45 751.9L319.72 754.5M319.72 755.37L318.86 757.96M318.86 770.07L319.72 772.66M319.72 773.53L321.45 776.12M323.18 750.17L321.45 751.9M321.45 776.12L323.18 777.85M330.1 753.63L330.1 771.8M330.1 753.63L336.16 771.8M342.21 753.63L336.16 771.8M342.21 753.63L342.21 771.8M343.08 753.63L343.08 771.8M330.97 753.63L336.16 769.2M339.62 771.8L345.67 771.8M327.51 771.8L332.7 771.8M327.51 753.63L330.97 753.63M342.21 753.63L345.67 753.63M367.82 757.96L368.68 762.28M368.68 757.96L369.55 762.28M368.68 765.75L367.82 770.07M369.55 765.75L368.68 770.07M365.22 751.9L366.95 755.37M366.95 754.5L368.68 757.96M368.68 762.28L368.68 765.75M369.55 762.28L369.55 765.75M368.68 770.07L366.95 773.53M366.95 772.66L365.22 776.12M365.22 751.9L366.95 754.5M366.95 755.37L367.82 757.96M367.82 770.07L366.95 772.66M366.95 773.53L365.22 776.12M363.49 750.17L365.22 751.9M365.22 776.12L363.49 777.85M744.12 753.63L744.12 771.8M744.12 753.63L750.17 771.8M756.23 753.63L750.17 771.8M756.23 753.63L756.23 771.8M757.09 753.63L757.09 771.8M744.98 753.63L750.17 769.2M753.63 771.8L759.69 771.8M741.52 771.8L746.71 771.8M741.52 753.63L744.98 753.63M756.23 753.63L759.69 753.63M765.74 757.96L764.88 762.28M766.61 757.96L765.74 762.28M764.88 765.75L765.74 770.07M765.74 765.75L766.61 770.07M769.2 751.9L767.47 755.37M767.47 754.5L765.74 757.96M764.88 762.28L764.88 765.75M765.74 762.28L765.74 765.75M765.74 770.07L767.47 773.53M767.47 772.66L769.2 776.12M769.2 751.9L767.47 754.5M767.47 755.37L766.61 757.96M766.61 770.07L767.47 772.66M767.47 773.53L769.2 776.12M770.93 750.17L769.2 751.9M769.2 776.12L770.93 777.85M777.85 753.63L777.85 771.8M777.85 753.63L783.91 771.8M789.96 753.63L783.91 771.8M789.96 753.63L789.96 771.8M790.83 753.63L790.83 771.8M778.72 753.63L783.91 769.2M787.37 771.8L793.42 771.8M775.26 771.8L780.45 771.8M775.26 753.63L778.72 753.63M789.96 753.63L793.42 753.63M815.57 757.96L816.43 762.28M816.43 757.96L817.3 762.28M816.43 765.75L815.57 770.07M817.3 765.75L816.43 770.07M812.97 751.9L814.7 755.37M814.7 754.5L816.43 757.96M816.43 762.28L816.43 765.75M817.3 762.28L817.3 765.75M816.43 770.07L814.7 773.53M814.7 772.66L812.97 776.12M812.97 751.9L814.7 754.5M814.7 755.37L815.57 757.96M815.57 770.07L814.7 772.66M814.7 773.53L812.97 776.12M811.24 750.17L812.97 751.9M812.97 776.12L811.24 777.85M6.71 256.32L17.61 256.32M7.23 256.84L17.61 256.84M17.61 258.92L17.61 254.24M6.71 256.32L8.26 257.88M8.26 257.88L8.78 258.92M6.71 244.9L17.61 244.9M7.74 245.42L17.61 245.42M14.49 250.61L14.49 242.31M6.71 244.9L14.49 250.61M17.61 246.98L17.61 243.34M7.48 236.94L25.65 236.94M7.48 225.7L25.65 225.7M7.48 236.08L23.92 225.7M9.21 236.08L25.65 225.7M7.48 228.29L7.48 223.1M25.65 239.54L25.65 234.35M7.48 239.54L7.48 236.08M23.75 218.78L34.65 218.78M23.75 218.26L34.65 218.26M23.75 220.34L23.75 214.11M29.46 218.26L29.46 214.11M34.65 220.34L34.65 216.7M23.75 214.11L24.27 212.55M25.82 212.03L27.38 212.03M25.82 211.51L27.38 211.51M28.94 212.55L29.46 214.11M23.75 214.11L24.27 213.07M24.78 212.55L25.82 212.03M24.78 212.03L25.82 211.51M27.38 212.03L28.42 212.55M27.38 211.51L28.42 212.03M28.94 213.07L29.46 214.11M24.27 213.07L24.78 212.55M24.27 212.55L24.78 212.03M28.42 212.55L28.94 213.07M28.42 212.03L28.94 212.55M4.02 192.66L31.7 208.23M6.71 185.22L17.61 185.22M7.23 185.74L17.61 185.74M17.61 187.81L17.61 183.14M6.71 185.22L8.26 186.77M8.26 186.77L8.78 187.81M6.71 173.8L17.61 173.8M7.74 174.32L17.61 174.32M14.49 179.51L14.49 171.2M6.71 173.8L14.49 179.51M17.61 175.88L17.61 172.24M7.48 165.84L25.65 165.84M7.48 154.6L25.65 154.6M7.48 164.98L23.92 154.6M9.21 164.98L25.65 154.6M7.48 157.19L7.48 152M25.65 168.44L25.65 163.25M7.48 168.44L7.48 164.98M-0.14 590.52L10.76 590.52M0.38 591.04L10.76 591.04M10.76 593.11L10.76 588.44M-0.14 590.52L1.41 592.08M1.41 592.08L1.93 593.11M-0.14 579.1L10.76 579.1M0.89 579.62L10.76 579.62M7.64 584.81L7.64 576.51M-0.14 579.1L7.64 584.81M10.76 581.18L10.76 577.54M0.64 571.14L18.8 571.14M0.64 559.9L18.8 559.9M0.64 570.28L17.07 559.9M2.37 570.28L18.8 559.9M0.64 562.49L0.64 557.3M18.8 573.74L18.8 568.55M0.64 573.74L0.64 570.28M16.9 552.98L27.8 552.98M16.9 552.46L27.8 552.46M16.9 554.54L16.9 548.31M22.61 552.46L22.61 548.31M27.8 554.54L27.8 550.9M16.9 548.31L17.42 546.75M18.97 546.23L20.53 546.23M18.97 545.71L20.53 545.71M22.09 546.75L22.61 548.31M16.9 548.31L17.42 547.27M17.94 546.75L18.97 546.23M17.94 546.23L18.97 545.71M20.53 546.23L21.57 546.75M20.53 545.71L21.57 546.23M22.09 547.27L22.61 548.31M17.42 547.27L17.94 546.75M17.42 546.75L17.94 546.23M21.57 546.75L22.09 547.27M21.57 546.23L22.09 546.75M-2.82 526.86L24.86 542.43M-0.14 519.42L10.76 519.42M0.38 519.94L10.76 519.94M10.76 522.01L10.76 517.34M-0.14 519.42L1.41 520.97M1.41 520.97L1.93 522.01M-0.14 508L10.76 508M0.89 508.52L10.76 508.52M7.64 513.71L7.64 505.4M-0.14 508L7.64 513.71M10.76 510.07L10.76 506.44M0.64 500.04L18.8 500.04M0.64 488.8L18.8 488.8M0.64 499.18L17.07 488.8M2.37 499.18L18.8 488.8M0.64 491.39L0.64 486.2M18.8 502.64L18.8 497.45M0.64 502.64L0.64 499.18M482.16 80.22L482.16 88M483.03 81.95L483.03 88M481.3 82.81L476.11 83.68M476.11 78.49L479.56 78.49M476.11 83.68L473.51 84.54M473.51 89.73L476.11 90.6M476.11 90.6L478.7 90.6M476.11 78.49L474.38 79.35M479.56 78.49L481.3 79.35M482.16 80.22L483.03 81.95M476.11 83.68L474.38 84.54M473.51 84.54L472.65 86.27M474.38 84.54L473.51 86.27M472.65 86.27L472.65 88M473.51 86.27L473.51 88M472.65 88L473.51 89.73M473.51 88L474.38 89.73M482.16 88L480.43 89.73M482.16 88L483.03 89.73M483.03 88L483.89 89.73M474.38 89.73L476.11 90.6M480.43 89.73L478.7 90.6M483.03 89.73L484.75 90.6M474.38 79.35L473.51 80.22M481.3 79.35L482.16 80.22M473.51 80.22L473.51 81.08M474.38 80.22L474.38 81.08M473.51 81.08L474.38 81.08M482.16 81.95L481.3 82.81M483.89 89.73L484.75 90.6M484.75 90.6L485.62 90.6M494.27 76.76L495.14 81.08M495.14 76.76L496 81.08M495.14 84.54L494.27 88.87M496 84.54L495.14 88.87M491.68 70.7L493.41 74.16M493.41 73.3L495.14 76.76M495.14 81.08L495.14 84.54M496 81.08L496 84.54M495.14 88.87L493.41 92.33M493.41 91.46L491.68 94.92M491.68 70.7L493.41 73.3M493.41 74.16L494.27 76.76M494.27 88.87L493.41 91.46M493.41 92.33L491.68 94.92M489.95 68.97L491.68 70.7M491.68 94.92L489.95 96.66M922.33 72.44L922.33 90.6M923.19 72.44L923.19 90.6M919.73 72.44L923.19 72.44M928.38 78.49L930.98 79.35M931.84 81.08L932.71 83.68M932.71 81.08L933.57 83.68M932.71 85.41L931.84 88M933.57 85.41L932.71 88M930.98 89.73L928.38 90.6M926.65 78.49L928.38 78.49M926.65 78.49L924.92 79.35M928.38 78.49L930.11 79.35M924.92 79.35L923.19 81.08M930.11 79.35L931.84 81.08M930.98 79.35L932.71 81.08M932.71 83.68L932.71 85.41M933.57 83.68L933.57 85.41M923.19 88L924.92 89.73M931.84 88L930.11 89.73M932.71 88L930.98 89.73M924.92 89.73L926.65 90.6M930.11 89.73L928.38 90.6M926.65 90.6L928.38 90.6M943.08 76.76L943.95 81.08M943.95 76.76L944.81 81.08M943.95 84.54L943.08 88.87M944.81 84.54L943.95 88.87M940.49 70.7L942.22 74.16M942.22 73.3L943.95 76.76M943.95 81.08L943.95 84.54M944.81 81.08L944.81 84.54M943.95 88.87L942.22 92.33M942.22 91.46L940.49 94.92M940.49 70.7L942.22 73.3M942.22 74.16L943.08 76.76M943.08 88.87L942.22 91.46M942.22 92.33L940.49 94.92M938.76 68.97L940.49 70.7M940.49 94.92L938.76 96.66M477.84 412.79L480.43 412.79M477.84 412.79L475.24 413.66M473.51 415.39L472.65 417.98M474.38 415.39L473.51 417.98M472.65 419.71L473.51 422.31M473.51 419.71L474.38 422.31M475.24 424.04L477.84 424.9M482.16 424.04L479.56 424.9M477.84 412.79L476.11 413.66M480.43 412.79L482.16 413.66M475.24 413.66L473.51 415.39M476.11 413.66L474.38 415.39M482.16 413.66L483.89 415.39M472.65 417.98L472.65 419.71M473.51 417.98L473.51 419.71M473.51 422.31L475.24 424.04M474.38 422.31L476.11 424.04M483.89 422.31L482.16 424.04M476.11 424.04L477.84 424.9M477.84 424.9L479.56 424.9M483.03 415.39L482.16 416.25M483.89 415.39L483.89 416.25M482.16 416.25L483.03 417.12M483.89 416.25L483.03 417.12M493.41 411.06L494.27 415.39M494.27 411.06L495.13 415.39M494.27 418.85L493.41 423.17M495.13 418.85L494.27 423.17M490.81 405.01L492.54 408.47M492.54 407.6L494.27 411.06M494.27 415.39L494.27 418.85M495.13 415.39L495.13 418.85M494.27 423.17L492.54 426.63M492.54 425.77L490.81 429.23M490.81 405.01L492.54 407.6M492.54 408.47L493.41 411.06M493.41 423.17L492.54 425.77M492.54 426.63L490.81 429.23M489.08 403.28L490.81 405.01M490.81 429.23L489.08 430.96M930.98 406.74L930.98 424.9M931.84 406.74L931.84 424.9M928.38 406.74L931.84 406.74M930.98 424.9L934.43 424.9M925.78 412.79L923.19 413.66M921.46 415.39L920.6 417.98M922.33 415.39L921.46 417.98M920.6 419.71L921.46 422.31M921.46 419.71L922.33 422.31M923.19 424.04L925.78 424.9M925.78 412.79L927.51 412.79M925.78 412.79L924.05 413.66M927.51 412.79L929.25 413.66M923.19 413.66L921.46 415.39M924.05 413.66L922.33 415.39M929.25 413.66L930.98 415.39M920.6 417.98L920.6 419.71M921.46 417.98L921.46 419.71M921.46 422.31L923.19 424.04M922.33 422.31L924.05 424.04M930.98 422.31L929.25 424.04M924.05 424.04L925.78 424.9M929.25 424.04L927.51 424.9M925.78 424.9L927.51 424.9M943.08 411.06L943.95 415.39M943.95 411.06L944.81 415.39M943.95 418.85L943.08 423.17M944.81 418.85L943.95 423.17M940.49 405.01L942.22 408.47M942.22 407.6L943.95 411.06M943.95 415.39L943.95 418.85M944.81 415.39L944.81 418.85M943.95 423.17L942.22 426.63M942.22 425.77L940.49 429.23M940.49 405.01L942.22 407.6M942.22 408.47L943.08 411.06M943.08 423.17L942.22 425.77M942.22 426.63L940.49 429.23M938.76 403.28L940.49 405.01M940.49 429.23L938.76 430.96M606.13 72.44L606.13 90.6M606.99 72.44L606.99 90.6M603.53 72.44L613.91 72.44M603.53 90.6L613.91 90.6M606.99 81.08L613.91 81.08M613.91 72.44L616.51 73.3M616.51 80.22L613.91 81.08M613.91 81.08L616.51 81.95M617.37 84.54L617.37 87.14M618.24 84.54L618.24 87.14M616.51 89.73L613.91 90.6M613.91 72.44L615.64 73.3M616.51 74.16L617.37 75.89M617.37 74.16L618.24 75.89M617.37 75.89L617.37 77.62M618.24 75.89L618.24 77.62M617.37 77.62L616.51 79.35M618.24 77.62L617.37 79.35M615.64 80.22L613.91 81.08M613.91 81.08L615.64 81.95M616.51 82.81L617.37 84.54M617.37 82.81L618.24 84.54M617.37 87.14L616.51 88.87M618.24 87.14L617.37 88.87M615.64 89.73L613.91 90.6M615.64 73.3L616.51 74.16M616.51 73.3L617.37 74.16M616.51 79.35L615.64 80.22M617.37 79.35L616.51 80.22M615.64 81.95L616.51 82.81M616.51 81.95L617.37 82.81M616.51 88.87L615.64 89.73M617.37 88.87L616.51 89.73M625.16 72.44L625.16 85.41M626.02 72.44L626.02 85.41M637.26 72.44L637.26 85.41M622.56 72.44L628.62 72.44M634.67 72.44L639.86 72.44M625.16 85.41L626.02 88M626.02 85.41L626.88 88M637.26 85.41L636.4 88M627.75 89.73L630.35 90.6M634.67 89.73L632.08 90.6M626.02 88L627.75 89.73M626.88 88L628.62 89.73M636.4 88L634.67 89.73M628.62 89.73L630.35 90.6M630.35 90.6L632.08 90.6M157.27 406.74L157.27 424.9M157.27 406.74L163.33 424.9M169.38 406.74L163.33 424.9M169.38 406.74L169.38 424.9M170.25 406.74L170.25 424.9M158.14 406.74L163.33 422.31M166.79 424.9L172.84 424.9M154.68 424.9L159.87 424.9M154.68 406.74L158.14 406.74M169.38 406.74L172.84 406.74M183.22 406.74L177.17 424.9M183.22 406.74L189.28 424.9M183.22 409.33L188.41 424.9M178.9 419.71L186.69 419.71M175.44 424.9L180.63 424.9M185.82 424.9L191.01 424.9M604.1 406.74L610.15 424.9M616.21 406.74L610.15 424.9M604.96 406.74L610.15 422.31M602.37 406.74L607.55 406.74M612.75 406.74L617.93 406.74M633.5 417.98L633.5 424.9M634.37 417.98L634.37 424.9M630.91 417.98L636.96 417.98M634.37 406.74L634.37 411.93M621.39 413.66L621.39 417.98M622.26 413.66L622.26 417.98M627.45 406.74L624.85 407.6M629.18 406.74L631.77 407.6M634.37 406.74L633.5 409.33M633.5 409.33L634.37 411.93M622.26 411.06L621.39 413.66M623.12 411.06L622.26 413.66M621.39 417.98L622.26 420.58M622.26 417.98L623.12 420.58M624.85 424.04L627.45 424.9M631.77 424.04L629.18 424.9M627.45 406.74L629.18 406.74M627.45 406.74L625.72 407.6M624.85 407.6L623.12 409.33M625.72 407.6L623.99 409.33M631.77 407.6L633.5 409.33M623.12 409.33L622.26 411.06M623.99 409.33L623.12 411.06M622.26 420.58L623.12 422.31M623.12 420.58L623.99 422.31M623.12 422.31L624.85 424.04M623.99 422.31L625.72 424.04M633.5 422.31L631.77 424.04M625.72 424.04L627.45 424.9M627.45 424.9L629.18 424.9M443.52 129.15L443.52 147.31M444.39 129.15L444.39 147.31M440.93 129.15L451.31 129.15M440.93 147.31L451.31 147.31M444.39 137.8L451.31 137.8M451.31 129.15L453.9 130.01M453.9 136.93L451.31 137.8M451.31 137.8L453.9 138.66M454.77 141.25L454.77 143.85M455.63 141.25L455.63 143.85M453.9 146.44L451.31 147.31M451.31 129.15L453.04 130.01M453.9 130.88L454.77 132.6M454.77 130.88L455.63 132.6M454.77 132.6L454.77 134.34M455.63 132.6L455.63 134.34M454.77 134.34L453.9 136.06M455.63 134.34L454.77 136.06M453.04 136.93L451.31 137.8M451.31 137.8L453.04 138.66M453.9 139.53L454.77 141.25M454.77 139.53L455.63 141.25M454.77 143.85L453.9 145.58M455.63 143.85L454.77 145.58M453.04 146.44L451.31 147.31M453.04 130.01L453.9 130.88M453.9 130.01L454.77 130.88M453.9 136.06L453.04 136.93M454.77 136.06L453.9 136.93M453.04 138.66L453.9 139.53M453.9 138.66L454.77 139.53M453.9 145.58L453.04 146.44M454.77 145.58L453.9 146.44M462.56 129.15L462.56 142.12M463.42 129.15L463.42 142.12M474.67 129.15L474.67 142.12M459.96 129.15L466.02 129.15M472.07 129.15L477.26 129.15M462.56 142.12L463.42 144.72M463.42 142.12L464.29 144.72M474.67 142.12L473.8 144.72M465.15 146.44L467.75 147.31M472.07 146.44L469.48 147.31M463.42 144.72L465.15 146.44M464.29 144.72L466.02 146.44M473.8 144.72L472.07 146.44M466.02 146.44L467.75 147.31M467.75 147.31L469.48 147.31M441.8 154.73L447.85 172.89M453.9 154.73L447.85 172.89M442.66 154.73L447.85 170.3M440.06 154.73L445.25 154.73M450.44 154.73L455.63 154.73M471.2 165.97L471.2 172.89M472.07 165.97L472.07 172.89M468.61 165.97L474.67 165.97M472.07 154.73L472.07 159.92M459.1 161.65L459.1 165.97M459.96 161.65L459.96 165.97M465.15 154.73L462.56 155.59M466.88 154.73L469.48 155.59M472.07 154.73L471.2 157.32M471.2 157.32L472.07 159.92M459.96 159.05L459.1 161.65M460.82 159.05L459.96 161.65M459.1 165.97L459.96 168.57M459.96 165.97L460.82 168.57M462.56 172.03L465.15 172.89M469.48 172.03L466.88 172.89M465.15 154.73L466.88 154.73M465.15 154.73L463.42 155.59M462.56 155.59L460.82 157.32M463.42 155.59L461.69 157.32M469.48 155.59L471.2 157.32M460.82 157.32L459.96 159.05M461.69 157.32L460.82 159.05M459.96 168.57L460.82 170.3M460.82 168.57L461.69 170.3M460.82 170.3L462.56 172.03M461.69 170.3L463.42 172.03M471.2 170.3L469.48 172.03M463.42 172.03L465.15 172.89M465.15 172.89L466.88 172.89M443.52 180.51L443.52 198.67M443.52 180.51L449.58 198.67M455.63 180.51L449.58 198.67M455.63 180.51L455.63 198.67M456.5 180.51L456.5 198.67M444.39 180.51L449.58 196.08M453.04 198.67L459.09 198.67M440.93 198.67L446.12 198.67M440.93 180.51L444.39 180.51M455.63 180.51L459.09 180.51M469.47 180.51L463.42 198.67M469.47 180.51L475.53 198.67M469.47 183.1L474.66 198.67M465.15 193.48L472.94 193.48M461.69 198.67L466.88 198.67M472.07 198.67L477.26 198.67M900.04 129L888.8 147.16M900.91 129L889.66 147.16M888.8 129L900.91 129M888.8 147.16L900.91 147.16M888.8 129L888.8 134.19M889.66 129L888.8 134.19M900.91 141.97L900.04 147.16M900.91 141.97L900.91 147.16M900.04 154.63L888.8 172.79M900.91 154.63L889.66 172.79M888.8 154.63L900.91 154.63M888.8 172.79L900.91 172.79M888.8 154.63L888.8 159.82M889.66 154.63L888.8 159.82M900.91 167.6L900.04 172.79M900.91 167.6L900.91 172.79M934.29 151.17L918.72 178.85M942.94 154.63L946.4 154.63M942.94 172.79L946.4 172.79M942.94 154.63L940.35 155.49M946.4 154.63L949 155.49M949 157.22L949 159.82M949.86 157.22L949.86 159.82M949 161.55L946.4 162.41M943.81 162.41L946.4 162.41M949 164.14L949.86 166.74M949.86 166.74L949.86 169.33M950.73 166.74L950.73 169.33M940.35 171.93L942.94 172.79M949 171.93L946.4 172.79M946.4 154.63L948.13 155.49M948.13 155.49L949 157.22M949 155.49L949.86 157.22M939.48 156.36L938.62 158.09M949 159.82L948.13 161.55M949.86 159.82L949 161.55M948.13 161.55L946.4 162.41M946.4 162.41L948.13 163.28M948.13 163.28L949.86 165.01M949.86 165.01L950.73 166.74M938.62 169.33L939.48 171.06M949.86 169.33L949 171.06M950.73 169.33L949.86 171.06M948.13 171.93L946.4 172.79M940.35 155.49L939.48 156.36M938.62 158.09L938.62 158.95M939.48 158.09L940.35 158.95M938.62 158.95L939.48 159.82M940.35 158.95L939.48 159.82M939.48 167.6L938.62 168.47M939.48 167.6L940.35 168.47M938.62 168.47L938.62 169.33M940.35 168.47L939.48 169.33M939.48 171.06L940.35 171.93M949 171.06L948.13 171.93M949.86 171.06L949 171.93M452.44 591.74L441.2 609.9M453.31 591.74L442.06 609.9M441.2 591.74L453.31 591.74M441.2 609.9L453.31 609.9M441.2 591.74L441.2 596.92M442.06 591.74L441.2 596.92M453.31 604.71L452.44 609.9M453.31 604.71L453.31 609.9M452.44 617.34L441.2 635.5M453.31 617.34L442.06 635.5M441.2 617.34L453.31 617.34M441.2 635.5L453.31 635.5M441.2 617.34L441.2 622.52M442.06 617.34L441.2 622.52M453.31 630.31L452.44 635.5M453.31 630.31L453.31 635.5M486.69 613.88L471.12 641.55M492.75 617.34L501.4 617.34M492.75 617.34L491.02 625.99M501.4 617.34L497.07 618.2M492.75 618.2L497.07 618.2M495.34 623.39L497.94 623.39M495.34 623.39L492.75 624.25M497.94 623.39L500.53 624.25M501.4 625.99L502.26 628.58M502.26 625.99L503.13 628.58M502.26 630.31L501.4 632.9M503.13 630.31L502.26 632.9M492.75 634.63L495.34 635.5M500.53 634.63L497.94 635.5M495.34 635.5L497.94 635.5M497.94 623.39L499.67 624.25M492.75 624.25L491.02 625.99M499.67 624.25L501.4 625.99M500.53 624.25L502.26 625.99M502.26 628.58L502.26 630.31M503.13 628.58L503.13 630.31M491.02 632.04L491.88 633.77M501.4 632.9L499.67 634.63M502.26 632.9L500.53 634.63M499.67 634.63L497.94 635.5M491.88 630.31L491.02 631.17M491.88 630.31L492.75 631.17M491.02 631.17L491.02 632.04M492.75 631.17L491.88 632.04M491.88 633.77L492.75 634.63M900.04 463.03L888.8 481.2M900.91 463.03L889.66 481.2M888.8 463.03L900.91 463.03M888.8 481.2L900.91 481.2M888.8 463.03L888.8 468.22M889.66 463.03L888.8 468.22M900.91 476.01L900.04 481.2M900.91 476.01L900.91 481.2M900.04 489.13L888.8 507.3M900.91 489.13L889.66 507.3M888.8 489.13L900.91 489.13M888.8 507.3L900.91 507.3M888.8 489.13L888.8 494.32M889.66 489.13L888.8 494.32M900.91 502.11L900.04 507.3M900.91 502.11L900.91 507.3M934.29 485.68L918.72 513.36M940.35 489.13L949 489.13M940.35 489.13L938.62 497.79M949 489.13L944.67 490M940.35 490L944.67 490M942.94 495.19L945.54 495.19M942.94 495.19L940.35 496.06M945.54 495.19L948.13 496.06M949 497.79L949.86 500.38M949.86 497.79L950.73 500.38M949.86 502.11L949 504.7M950.73 502.11L949.86 504.7M940.35 506.44L942.94 507.3M948.13 506.44L945.54 507.3M942.94 507.3L945.54 507.3M945.54 495.19L947.27 496.06M940.35 496.06L938.62 497.79M947.27 496.06L949 497.79M948.13 496.06L949.86 497.79M949.86 500.38L949.86 502.11M950.73 500.38L950.73 502.11M938.62 503.84L939.48 505.57M949 504.7L947.27 506.44M949.86 504.7L948.13 506.44M947.27 506.44L945.54 507.3M939.48 502.11L938.62 502.98M939.48 502.11L940.35 502.98M938.62 502.98L938.62 503.84M940.35 502.98L939.48 503.84M939.48 505.57L940.35 506.44" stroke="#000" stroke-width="0.8" fill="none" stroke-linecap="round" stroke-linejoin="round"/>
<circle cx="354.15" cy="774.57" r="5.5" fill="none" stroke="#000" stroke-width="0.75"/><circle cx="354.15" cy="774.57" r="0.85" fill="#000"/>
<circle cx="801.9" cy="774.57" r="5.5" fill="none" stroke="#000" stroke-width="0.75"/><circle cx="801.9" cy="774.57" r="0.85" fill="#000"/>
<circle cx="910.25" cy="149.93" r="5.5" fill="none" stroke="#000" stroke-width="0.75"/><circle cx="910.25" cy="149.93" r="0.85" fill="#000"/>
<circle cx="910.25" cy="175.56" r="5.5" fill="none" stroke="#000" stroke-width="0.75"/><circle cx="910.25" cy="175.56" r="0.85" fill="#000"/>
<circle cx="462.65" cy="612.67" r="5.5" fill="none" stroke="#000" stroke-width="0.75"/><circle cx="462.65" cy="612.67" r="0.85" fill="#000"/>
<circle cx="462.65" cy="638.27" r="5.5" fill="none" stroke="#000" stroke-width="0.75"/><circle cx="462.65" cy="638.27" r="0.85" fill="#000"/>
<circle cx="910.25" cy="483.97" r="5.5" fill="none" stroke="#000" stroke-width="0.75"/><circle cx="910.25" cy="483.97" r="0.85" fill="#000"/>
<circle cx="910.25" cy="510.07" r="5.5" fill="none" stroke="#000" stroke-width="0.75"/><circle cx="910.25" cy="510.07" r="0.85" fill="#000"/>
</svg>
</body></html>
